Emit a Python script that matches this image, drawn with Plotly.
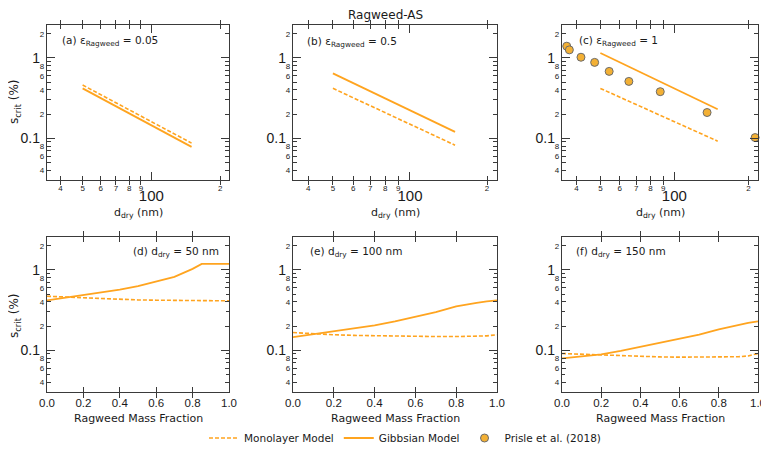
import plotly.graph_objects as go

# ---------------- data ----------------
d_model = [50, 150]                       # dry diameter (nm) for model lines
mono_a = [0.46, 0.087]
gibbs_a = [0.418, 0.078]
mono_b = [0.418, 0.082]
gibbs_b = [0.643, 0.12]
mono_c = [0.417, 0.092]
gibbs_c = [1.15, 0.23]

prisle_d = [36.5, 37.4, 41.7, 47.4, 54.3, 65.3, 87.6, 135.8, 213]
prisle_s = [1.40, 1.26, 1.02, 0.88, 0.68, 0.51, 0.38, 0.209, 0.102]

frac = [0, 0.1, 0.2, 0.3, 0.4, 0.5, 0.6, 0.7, 0.8, 0.85, 0.9, 0.95, 1.0]
gibbs_d = [0.417, 0.45, 0.49, 0.53, 0.57, 0.63, 0.72, 0.82, 1.03, 1.19, 1.19, 1.19, 1.19]
mono_d = [0.47, 0.46, 0.445, 0.435, 0.428, 0.423, 0.42, 0.417, 0.415, 0.414, 0.413, 0.412, 0.412]
gibbs_e = [0.146, 0.158, 0.172, 0.187, 0.204, 0.228, 0.259, 0.299, 0.351, 0.372, 0.39, 0.405, 0.417]
mono_e = [0.166, 0.16, 0.156, 0.153, 0.151, 0.149, 0.148, 0.148, 0.148, 0.148, 0.149, 0.151, 0.156]
gibbs_f = [0.079, 0.084, 0.089, 0.098, 0.110, 0.122, 0.137, 0.157, 0.182, 0.195, 0.208, 0.219, 0.229]
mono_f = [0.091, 0.089, 0.0867, 0.085, 0.0835, 0.0826, 0.082, 0.082, 0.082, 0.082, 0.083, 0.085, 0.091]

panel_labels = ["(a) ε<sub>Ragweed</sub> = 0.05", "(b) ε<sub>Ragweed</sub> = 0.5",
                "(c) ε<sub>Ragweed</sub> = 1", "(d) d<sub>dry</sub> = 50 nm",
                "(e) d<sub>dry</sub> = 100 nm", "(f) d<sub>dry</sub> = 150 nm"]

# decade ticks (long, large labels) and in-between labelled ticks
y_decade_vals = [1, 0.1]
y_decade_text = ["1", "0.1"]
y_sub_vals = [2, 0.8, 0.6, 0.4, 0.2, 0.08, 0.06, 0.04]
y_sub_text = ["2", "8", "6", "4", "2", "8", "6", "4"]
y_minor_vals = [0.9, 0.7, 0.5, 0.3, 0.09, 0.07, 0.05, 0.03]
x_decade_vals = [100]
x_decade_text = ["100"]
x_sub_vals = [40, 50, 60, 70, 80, 90, 200]
x_sub_text = ["4", "5", "6", "7", "8", "9", "2"]
x_lin_vals = [0, 0.2, 0.4, 0.6, 0.8, 1.0]
x_lin_text = ["0.0", "0.2", "0.4", "0.6", "0.8", "1.0"]

# ---------------- style ----------------
OFF = 8                      # the page's body margin: the figure starts 8 px in
W, H = 769 - OFF, 452 - OFF
ORANGE = "#FFA41F"
DOT = "#F3B034"
AX = "#3a3a3a"
TXT = "#1a1a1a"
TICKF = "Liberation Sans, Arial, sans-serif"
SANS = "DejaVu Sans, Liberation Sans, sans-serif"
XLOG_RANGE = [1.543, 2.34]
YLOG_RANGE = [-1.52, 0.41]


def fx(px):
    return (px - OFF) / W


def fy(py):
    return 1 - (py - OFF) / H


cols = [(47, 229), (293, 497), (562, 758)]
rows = [(25, 180), (237, 392)]

fig = go.Figure()

top_sets = [(mono_a, gibbs_a), (mono_b, gibbs_b), (mono_c, gibbs_c)]
bot_sets = [(mono_d, gibbs_d), (mono_e, gibbs_e), (mono_f, gibbs_f)]

for r in range(2):
    for c in range(3):
        i = r * 3 + c + 1
        xa = "x" if i == 1 else f"x{i}"
        ya = "y" if i == 1 else f"y{i}"
        if r == 0:
            xs = d_model
            mono, gibbs = top_sets[c]
        else:
            xs = frac
            mono, gibbs = bot_sets[c]
        fig.add_trace(go.Scatter(x=xs, y=mono, mode="lines", xaxis=xa, yaxis=ya,
                                 line=dict(color=ORANGE, width=1.6, dash="4px,2px"),
                                 name="Monolayer Model", showlegend=(i == 1)))
        fig.add_trace(go.Scatter(x=xs, y=gibbs, mode="lines", xaxis=xa, yaxis=ya,
                                 line=dict(color=ORANGE, width=1.8),
                                 name="Gibbsian Model", showlegend=(i == 1)))
        if i == 3:
            fig.add_trace(go.Scatter(x=prisle_d, y=prisle_s, mode="markers", xaxis=xa, yaxis=ya,
                                     marker=dict(color=DOT, size=8, line=dict(color="#6b6b6b", width=1)),
                                     name="Prisle et al. (2018)", cliponaxis=False))

        xkey = "xaxis" if i == 1 else f"xaxis{i}"
        ykey = "yaxis" if i == 1 else f"yaxis{i}"
        x0, x1 = cols[c]
        y0, y1 = rows[r]
        common = dict(showline=True, linecolor=AX, linewidth=1.3, mirror="allticks",
                      ticks="inside", tickcolor=AX, tickwidth=1, showgrid=False, zeroline=False,
                      automargin=False, tickangle=0,
                      tickfont=dict(family=TICKF, size=8, color=TXT))
        if r == 0:
            xax = dict(common, type="log", range=XLOG_RANGE, domain=[fx(x0), fx(x1)],
                       anchor=ya, tickmode="array", tickvals=x_sub_vals, ticktext=x_sub_text,
                       ticklen=4)
            # overlay axis carrying the long decade tick and its large label
            n = 6 + c + 1
            fig.layout[f"xaxis{n}"] = dict(type="log", range=XLOG_RANGE, overlaying=xa, anchor=ya,
                                           domain=[fx(x0), fx(x1)], showline=False, showgrid=False,
                                           zeroline=False, automargin=False, tickangle=0,
                                           ticks="inside", ticklen=8, tickcolor=AX, tickwidth=1,
                                           mirror="allticks", side="bottom",
                                           tickmode="array", tickvals=x_decade_vals,
                                           ticktext=x_decade_text, ticklabelstandoff=5,
                                           tickfont=dict(family=TICKF, size=15, color=TXT))
            fig.add_trace(go.Scatter(x=[], y=[], xaxis=f"x{n}", yaxis=ya, mode="lines",
                                     showlegend=False, hoverinfo="skip"))
        else:
            xax = dict(common, range=[0, 1], domain=[fx(x0), fx(x1)], anchor=ya,
                       tickmode="array", tickvals=x_lin_vals, ticktext=x_lin_text, ticklen=5)
            xax["tickfont"] = dict(family=TICKF, size=11.5, color=TXT)
        yax = dict(common, type="log", range=YLOG_RANGE, domain=[fy(y1), fy(y0)], anchor=xa,
                   tickmode="array", tickvals=y_sub_vals, ticktext=y_sub_text, ticklen=4,
                   minor=dict(tickmode="array", tickvals=y_minor_vals, ticks="inside",
                              ticklen=2.5, tickcolor=AX))
        fig.layout[xkey] = xax
        fig.layout[ykey] = yax
        m = 6 + i
        fig.layout[f"yaxis{m}"] = dict(type="log", range=YLOG_RANGE, overlaying=ya, anchor=xa,
                                       domain=[fy(y1), fy(y0)], showline=False, showgrid=False,
                                       zeroline=False, automargin=False, tickangle=0, side="left",
                                       ticks="inside", ticklen=8, tickcolor=AX, tickwidth=1,
                                       mirror="allticks", tickmode="array",
                                       tickvals=y_decade_vals, ticktext=y_decade_text,
                                       ticklabelstandoff=6,
                                       tickfont=dict(family=TICKF, size=14, color=TXT))
        fig.add_trace(go.Scatter(x=[], y=[], xaxis=xa, yaxis=f"y{m}", mode="lines",
                                 showlegend=False, hoverinfo="skip"))


def ann(text, px, py, size, xanchor="center", angle=0):
    return dict(text=text, x=fx(px), y=fy(py), xref="paper", yref="paper",
                xanchor=xanchor, yanchor="middle", textangle=angle, showarrow=False,
                font=dict(family=SANS, size=size, color=TXT))


annots = [ann("Ragweed-AS", 385, 15, 12)]
label_pos = [(60, 41, "left"), (305, 42, "left"), (577, 41, "left"),
             (221, 252, "right"), (308, 252, "left"), (574, 252, "left")]
for txt, (px, py, anc) in zip(panel_labels, label_pos):
    annots.append(ann(txt, px, py, 10.5, anc))
for c in range(3):
    cx = (cols[c][0] + cols[c][1]) / 2
    annots.append(ann("d<sub>dry</sub> (nm)", cx, 213, 11))
    annots.append(ann("Ragweed Mass Fraction", cx, 418, 11))
for py in (102, 316):
    annots.append(ann("s<sub>crit</sub> (%)", 15, py, 12, angle=-90))

fig.update_layout(
    template="none",
    width=W, height=H, margin=dict(l=0, r=0, t=0, b=0, autoexpand=False),
    paper_bgcolor="white", plot_bgcolor="white",
    annotations=annots,
    legend=dict(orientation="h", x=fx(405), xanchor="center", y=fy(438), yanchor="middle",
                font=dict(family=SANS, size=10.5, color=TXT), bgcolor="rgba(0,0,0,0)"),
)

fig.write_html("out.html")
